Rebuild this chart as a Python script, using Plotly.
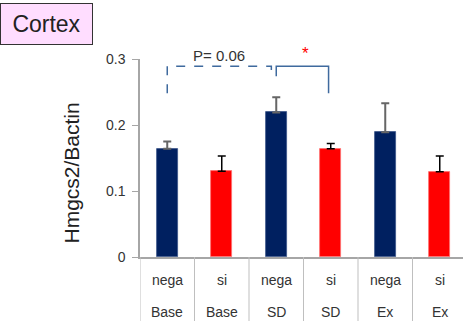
import plotly.graph_objects as go

treatments = ["nega", "si", "nega", "si", "nega", "si"]
conditions = ["Base", "Base", "SD", "SD", "Ex", "Ex"]
values = [0.164, 0.130, 0.219, 0.164, 0.189, 0.129]
errors = [0.011, 0.023, 0.023, 0.008, 0.044, 0.024]
y_ticks = [0, 0.1, 0.2, 0.3]
y_tick_text = ["0", "0.1", "0.2", "0.3"]

FONT = "Liberation Sans, Arial, sans-serif"
idx = list(range(len(values)))
nega_idx = [i for i in idx if treatments[i] == "nega"]
si_idx = [i for i in idx if treatments[i] == "si"]

fig = go.Figure()
fig.add_trace(go.Bar(
    x=nega_idx, y=[values[i] for i in nega_idx],
    marker=dict(color="#002060", line=dict(color="#3a5489", width=0.8)),
    width=0.39,
    error_y=dict(type="data", symmetric=False, array=[errors[i] for i in nega_idx],
                 arrayminus=[0] * len(nega_idx), color="#666666", thickness=2, width=4),
    showlegend=False,
))
fig.add_trace(go.Bar(
    x=si_idx, y=[values[i] for i in si_idx],
    marker=dict(color="#FF0000", line=dict(color="#ff7070", width=0.8)),
    width=0.39,
    error_y=dict(type="data", symmetric=False, array=[errors[i] for i in si_idx],
                 arrayminus=[0] * len(si_idx), color="#000000", thickness=1.5, width=4),
    showlegend=False,
))

L, T, B = 140, 59, 64
W, H = 463, 321
plot_w = W - L
plot_h = H - T - B
cat_px = 54.5
xmax = -0.5 + plot_w / cat_px

shapes = []
bottom_paper = -B / plot_h
for k in range(len(values) + 1):
    shapes.append(dict(type="line", xref="x", yref="paper", x0=k - 0.5, x1=k - 0.5,
                       y0=0, y1=bottom_paper, line=dict(color="#BFBFBF", width=1)))

bracket_col = "#3F6A9E"
# dashed bracket nega Base -> nega SD
shapes.append(dict(type="path", xref="x", yref="y",
                   path="M 0,0.248 L 0,0.289 L 1.91,0.289 L 1.91,0.279",
                   line=dict(color=bracket_col, width=1.5, dash="dash")))
# solid bracket nega SD -> si SD
shapes.append(dict(type="path", xref="x", yref="y",
                   path="M 2,0.274 L 2,0.289 L 2.96,0.289 L 2.96,0.248",
                   line=dict(color=bracket_col, width=1.5)))

annotations = []
for i in idx:
    annotations.append(dict(x=i, y=-23 / plot_h, xref="x", yref="paper", text=treatments[i],
                            showarrow=False, font=dict(size=14, color="#333333", family=FONT),
                            xanchor="center", yanchor="middle"))
    annotations.append(dict(x=i, y=-55 / plot_h, xref="x", yref="paper", text=conditions[i],
                            showarrow=False, font=dict(size=14, color="#333333", family=FONT),
                            xanchor="center", yanchor="middle"))

annotations.append(dict(x=0.95, y=(257 - 55) / plot_h, xref="x", yref="paper", text="P= 0.06",
                        showarrow=False, xanchor="center", yanchor="middle",
                        font=dict(size=15, color="#333333", family=FONT)))
annotations.append(dict(x=2.53, y=(257 - 54) / plot_h, xref="x", yref="paper", text="*",
                        showarrow=False, xanchor="center", yanchor="middle",
                        font=dict(size=17, color="#FF0000", family=FONT)))

annotations.append(dict(x=(71 - L) / plot_w, y=(257 - 173.5) / plot_h, xref="paper", yref="paper",
                        text="Hmgcs2/Bactin", textangle=-90, showarrow=False,
                        xanchor="center", yanchor="middle",
                        font=dict(size=21, color="#222222", family=FONT)))

annotations.append(dict(x=-L / plot_w, y=(257 - 3) / plot_h, xref="paper", yref="paper",
                        xanchor="left", yanchor="top", text="Cortex", showarrow=False,
                        width=89, height=38, borderpad=1, borderwidth=1,
                        bordercolor="#333333", bgcolor="#FFDDFF",
                        font=dict(size=23, color="#222222", family=FONT)))

fig.update_layout(
    width=W, height=H,
    margin=dict(l=L, r=0, t=T, b=B, pad=0),
    plot_bgcolor="white", paper_bgcolor="white",
    bargap=0,
    shapes=shapes,
    annotations=annotations,
    xaxis=dict(range=[-0.5, xmax], showticklabels=False, ticks="", showgrid=False,
               zeroline=False, showline=True, linecolor="#A6A6A6", linewidth=1.5),
    yaxis=dict(range=[0, 0.3], tickvals=y_ticks, ticktext=y_tick_text, ticks="outside",
               ticklen=6, tickcolor="#A6A6A6", showgrid=False, zeroline=False,
               showline=True, linecolor="#A6A6A6", linewidth=1.5, ticklabelstandoff=4,
               tickfont=dict(size=14, color="#333333", family=FONT)),
)

fig.write_html("out.html", config={"displayModeBar": False},
               post_script="document.body.style.margin='0';")
